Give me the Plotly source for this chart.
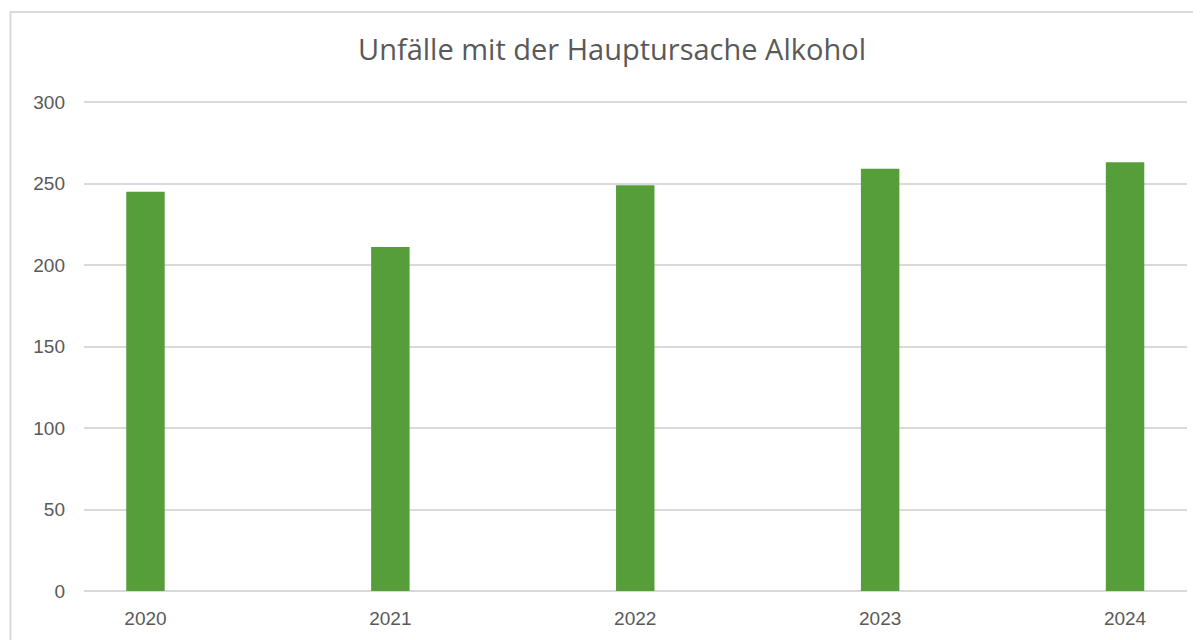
import plotly.graph_objects as go

years = ["2020", "2021", "2022", "2023", "2024"]
accidents = [245, 211, 249, 259, 263]
y_ticks = [0, 50, 100, 150, 200, 250, 300]

# page body adds an 8px offset; compensate
OFF = 8
W, H = 1201 - OFF, 640 - OFF
L, R, T, B = 84 - OFF, 14, 96 - OFF, 49
pw, ph = W - L - R, H - T - B
Y_TOP = 300 * (591 - 96) / (591 - 102)


def px_x(p):
    return (p - OFF - L) / pw


def px_y(p):
    return (H - B - (p - OFF)) / ph


fig = go.Figure()
fig.add_trace(go.Bar(
    x=years, y=accidents,
    marker=dict(color="#559E3A", line=dict(width=0)),
    width=0.157,
    hoverinfo="x+y",
))

fig.update_layout(
    width=W, height=H,
    margin=dict(l=L, r=R, t=T, b=B, autoexpand=False),
    paper_bgcolor="white", plot_bgcolor="white",
    showlegend=False,
    title=dict(
        text="Unfälle mit der Hauptursache Alkohol",
        x=(612 - OFF) / W, xanchor="center",
        y=1 - (50 - OFF) / H, yanchor="middle",
        font=dict(family="Open Sans, sans-serif", size=29, color="#595959"),
    ),
    xaxis=dict(
        type="category",
        range=[-0.251, 4.253],
        showgrid=False, zeroline=False, showline=False,
        ticks="", ticklabelstandoff=14,
        tickfont=dict(family="Liberation Sans, Arial, sans-serif", size=19, color="#595959"),
    ),
    yaxis=dict(
        range=[0, Y_TOP],
        tickvals=y_ticks,
        showgrid=True, gridcolor="#d9d9d9", gridwidth=2,
        zeroline=True, zerolinecolor="#d9d9d9", zerolinewidth=2,
        showline=False, ticks="", ticklabelstandoff=18,
        tickfont=dict(family="Liberation Sans, Arial, sans-serif", size=19, color="#595959"),
    ),
    shapes=[
        dict(type="rect", xref="paper", yref="paper",
             x0=px_x(10.5), x1=px_x(1215), y0=px_y(660), y1=px_y(12),
             line=dict(color="#d9d9d9", width=2), fillcolor="rgba(0,0,0,0)",
             layer="below"),
    ],
)

fig.write_html("out.html")
